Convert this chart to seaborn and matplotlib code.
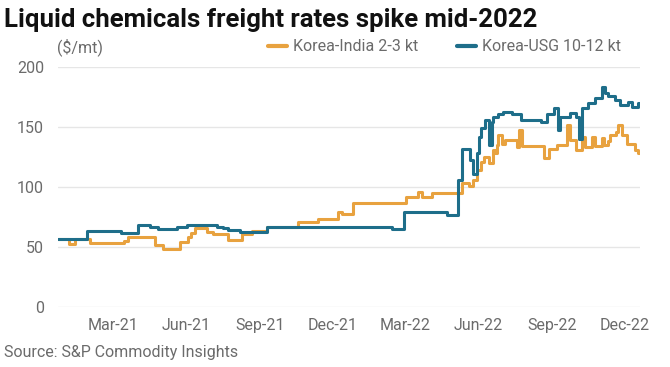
import matplotlib
matplotlib.use('Agg')
import matplotlib.pyplot as plt
import matplotlib.dates as mdates
import pandas as pd
import seaborn as sns

# Step-change points ($/mt)
india_dates = ['2020-12-22', '2021-01-05', '2021-01-12', '2021-01-31', '2021-03-15',
               '2021-03-19', '2021-04-22', '2021-05-02', '2021-05-24', '2021-06-03',
               '2021-06-07', '2021-06-11', '2021-06-26', '2021-07-04', '2021-07-23',
               '2021-08-09', '2021-08-22', '2021-09-09', '2021-10-18', '2021-11-12',
               '2021-12-08', '2021-12-13', '2021-12-26', '2022-03-02', '2022-03-18',
               '2022-03-23', '2022-04-04', '2022-05-12', '2022-05-20', '2022-05-25',
               '2022-05-31', '2022-06-04', '2022-06-08', '2022-06-15', '2022-06-20',
               '2022-06-22', '2022-06-24', '2022-06-26', '2022-07-01', '2022-07-04',
               '2022-07-20', '2022-07-22', '2022-07-26', '2022-08-22', '2022-08-28',
               '2022-09-08', '2022-09-20', '2022-09-24', '2022-10-01', '2022-10-09',
               '2022-10-13', '2022-10-21', '2022-10-25', '2022-11-03', '2022-11-05',
               '2022-11-10', '2022-11-13', '2022-11-21', '2022-11-23', '2022-11-28',
               '2022-12-04', '2022-12-14', '2022-12-18', '2022-12-20']
india_vals = [57, 52.5, 57, 53.6, 55.3,
              58, 52, 48.3, 54.4, 58.6,
              62, 65.5, 62.8, 60.8, 56,
              61, 63.5, 67, 71, 73,
              79.4, 77.5, 87, 92, 96,
              92, 94.7, 103, 100.8, 105.8,
              114, 121, 125, 120, 130.8,
              128, 135, 143, 136, 139,
              133.6, 147.5, 134, 124, 131.4,
              135, 152, 139, 131, 142,
              133, 142, 134, 140.5, 135,
              138, 143, 146, 151.7, 143,
              136, 131, 128, 128]

usg_dates = ['2020-12-22', '2021-01-27', '2021-03-11', '2021-04-01', '2021-04-16',
             '2021-04-26', '2021-05-20', '2021-06-01', '2021-07-09', '2021-07-17',
             '2021-07-23', '2021-08-07', '2021-09-09', '2021-09-13', '2022-02-13',
             '2022-02-28', '2022-04-23', '2022-05-07', '2022-05-12', '2022-05-22',
             '2022-05-25', '2022-05-31', '2022-06-02', '2022-06-04', '2022-06-10',
             '2022-06-15', '2022-06-18', '2022-06-20', '2022-06-26', '2022-07-02',
             '2022-07-13', '2022-07-24', '2022-08-18', '2022-08-26', '2022-09-04',
             '2022-09-09', '2022-09-12', '2022-09-24', '2022-10-01', '2022-10-05',
             '2022-10-09', '2022-10-17', '2022-10-25', '2022-11-03', '2022-11-07',
             '2022-11-10', '2022-11-19', '2022-11-25', '2022-12-05', '2022-12-10',
             '2022-12-18', '2022-12-20']
usg_vals = [56.5, 63, 62, 68, 66.5,
            64.7, 66.5, 68, 67, 65.5,
            64, 62.8, 66.4, 67, 64.7,
            79.5, 76.7, 106, 132, 122.5,
            111, 128, 142, 149, 156,
            135, 154, 158.6, 161, 162.8,
            160.8, 156, 154.4, 161, 165.6,
            147.5, 158, 162, 158, 140,
            165.6, 170.3, 174, 183, 178,
            175.8, 172.5, 168, 171, 167,
            169.7, 169.7]

series_names = ['Korea-India 2-3 kt', 'Korea-USG 10-12 kt']
colors = ['#E8A23F', '#1E6E8A']
tick_dates = ['2021-03-01', '2021-06-01', '2021-09-01', '2021-12-01',
              '2022-03-01', '2022-06-01', '2022-09-01', '2022-12-01']

df = pd.concat([
    pd.DataFrame({'date': pd.to_datetime(india_dates), 'rate': india_vals, 'route': series_names[0]}),
    pd.DataFrame({'date': pd.to_datetime(usg_dates), 'rate': usg_vals, 'route': series_names[1]}),
])

sns.set_theme(style='white')
plt.rcParams['font.family'] = ['Roboto', 'DejaVu Sans']

fig = plt.figure(figsize=(6.7, 3.67), dpi=100)
ax = fig.add_axes([0.0866, 0.1635, 0.868, 0.654])

sns.lineplot(data=df, x='date', y='rate', hue='route', palette=colors,
             drawstyle='steps-post', linewidth=2.2, ax=ax, legend=False)

ax.set_xlim(pd.Timestamp('2020-12-22'), pd.Timestamp('2022-12-20'))
ax.set_ylim(0, 200)
ax.set_yticks([0, 50, 100, 150, 200])
ax.set_xticks(pd.to_datetime(tick_dates))
ax.xaxis.set_major_formatter(mdates.DateFormatter('%b-%y'))
ax.grid(axis='y', color='#e6e6e6', linewidth=1)
ax.set_axisbelow(True)
for s in ax.spines.values():
    s.set_visible(False)
ax.tick_params(axis='both', length=0, colors='#6b6b6b', labelsize=11.5)
ax.tick_params(axis='y', pad=10)
ax.tick_params(axis='x', pad=8)
ax.set_xlabel('')
ax.set_ylabel('')

fig.text(0.006, 0.945, 'Liquid chemicals freight rates spike mid-2022',
         fontsize=18.5, fontweight='bold', color='#111111', va='center')
fig.text(0.085, 0.872, '($/mt)', fontsize=11.5, color='#6b6b6b', va='center')
fig.text(0.006, 0.04, 'Source: S&P Commodity Insights', fontsize=11.5,
         color='#6b6b6b', va='center')

handles = [plt.Line2D([], [], color=c, linewidth=3) for c in colors]
fig.legend(handles, series_names, loc='center left', bbox_to_anchor=(0.378, 0.872),
           ncol=2, frameon=False, fontsize=11.5, handlelength=1.2,
           handletextpad=0.4, columnspacing=2.4, labelcolor='#6b6b6b')

fig.savefig('out.png', dpi=100)
